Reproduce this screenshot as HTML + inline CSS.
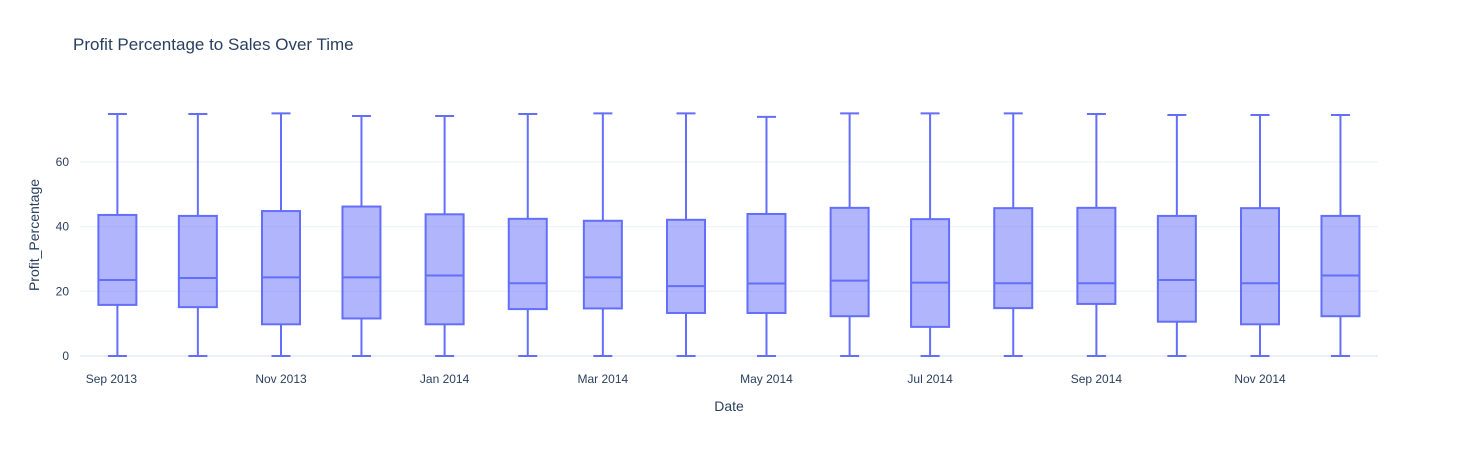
<!DOCTYPE html>
<html><head><meta charset="utf-8"><style>
html,body{margin:0;padding:0;background:#fff;}
svg{display:block;font-family:"Liberation Sans",Arial,sans-serif;}
</style></head><body>
<svg id="chart" width="1458" height="450">
<text x="73" y="50" font-size="17" fill="#2a3f5f">Profit Percentage to Sales Over Time</text>
<g id="grid"></g><g id="boxes"></g><g id="axes"></g>
<text x="729" y="411" font-size="14" fill="#2a3f5f" text-anchor="middle">Date</text>
<text transform="translate(39,235) rotate(-90)" font-size="14" fill="#2a3f5f" text-anchor="middle">Profit_Percentage</text>
</svg>
<script>
const months = ["2013-09","2013-10","2013-11","2013-12","2014-01","2014-02","2014-03","2014-04","2014-05","2014-06","2014-07","2014-08","2014-09","2014-10","2014-11","2014-12"];
const maxVals = [74.8,74.8,75,74.2,74.2,74.8,75,75,73.9,75,75,75,74.8,74.5,74.5,74.5];
const q3Vals = [43.6,43.3,44.8,46.2,43.8,42.4,41.8,42.1,43.9,45.8,42.3,45.7,45.8,43.3,45.7,43.3];
const medVals = [23.5,24.1,24.3,24.3,24.9,22.5,24.3,21.6,22.4,23.3,22.7,22.5,22.5,23.5,22.5,24.9];
const q1Vals = [15.8,15.1,9.8,11.6,9.8,14.5,14.7,13.3,13.3,12.3,9.0,14.8,16.1,10.6,9.8,12.3];
const minVals = [0,0,0,0,0,0,0,0,0,0,0,0,0,0,0,0];
const yTicks = [0,20,40,60];
const xTickMonths = ["2013-09","2013-11","2014-01","2014-03","2014-05","2014-07","2014-09","2014-11"];
const xTickLabels = ["Sep 2013","Nov 2013","Jan 2014","Mar 2014","May 2014","Jul 2014","Sep 2014","Nov 2014"];

const NS="http://www.w3.org/2000/svg";
const t0=Date.UTC(2013,10,1), t1=Date.UTC(2014,10,1);
function xScale(m){const [y,mo]=m.split("-").map(Number);const t=Date.UTC(y,mo-1,1);return 281+(t-t0)/(t1-t0)*979;}
function yScale(v){return 356-v*3.235;}
function el(tag,attrs,parent){const e=document.createElementNS(NS,tag);for(const k in attrs)e.setAttribute(k,attrs[k]);parent.appendChild(e);return e;}
const grid=document.getElementById("grid"),boxes=document.getElementById("boxes"),axes=document.getElementById("axes");
yTicks.forEach(v=>{
  const y=yScale(v);
  const l=el("line",{x1:80,x2:1378,y1:y,y2:y,stroke:v===0?"#ebf0f8":"#ebf0f8","stroke-width":v===0?2:1},grid);
  
  
  const t=el("text",{x:79-10,y:y+4,"font-size":12,fill:"#2a3f5f","text-anchor":"end"},axes);
  t.textContent=v;
  
  
});
xTickMonths.forEach((m,i)=>{
  let x=xScale(m); if(i===0)x-=6;
  const t=el("text",{x:x,y:383,"font-size":12,fill:"#2a3f5f","text-anchor":"middle"},axes);
  t.textContent=xTickLabels[i];
  
  
});
months.forEach((m,i)=>{
  const cx=xScale(m),hw=19,cw=9.5;
  const g=el("g",{},boxes);
  
  
  const st={stroke:"#636efa","stroke-width":2,fill:"none"};
  const yMax=yScale(maxVals[i]),yMin=yScale(minVals[i]),yq3=yScale(q3Vals[i]),yq1=yScale(q1Vals[i]),ym=yScale(medVals[i]);
  el("line",Object.assign({x1:cx,x2:cx,y1:yMax,y2:yq3},st),g);
  el("line",Object.assign({x1:cx,x2:cx,y1:yq1,y2:yMin},st),g);
  el("line",Object.assign({x1:cx-cw,x2:cx+cw,y1:yMax,y2:yMax},st),g);
  el("line",Object.assign({x1:cx-cw,x2:cx+cw,y1:yMin,y2:yMin},st),g);
  el("rect",{x:cx-hw,y:yq3,width:2*hw,height:yq1-yq3,fill:"rgba(99,110,250,0.5)",stroke:"#636efa","stroke-width":2},g);
  el("line",Object.assign({x1:cx-hw,x2:cx+hw,y1:ym,y2:ym},st),g);
});
</script>
</body></html>
